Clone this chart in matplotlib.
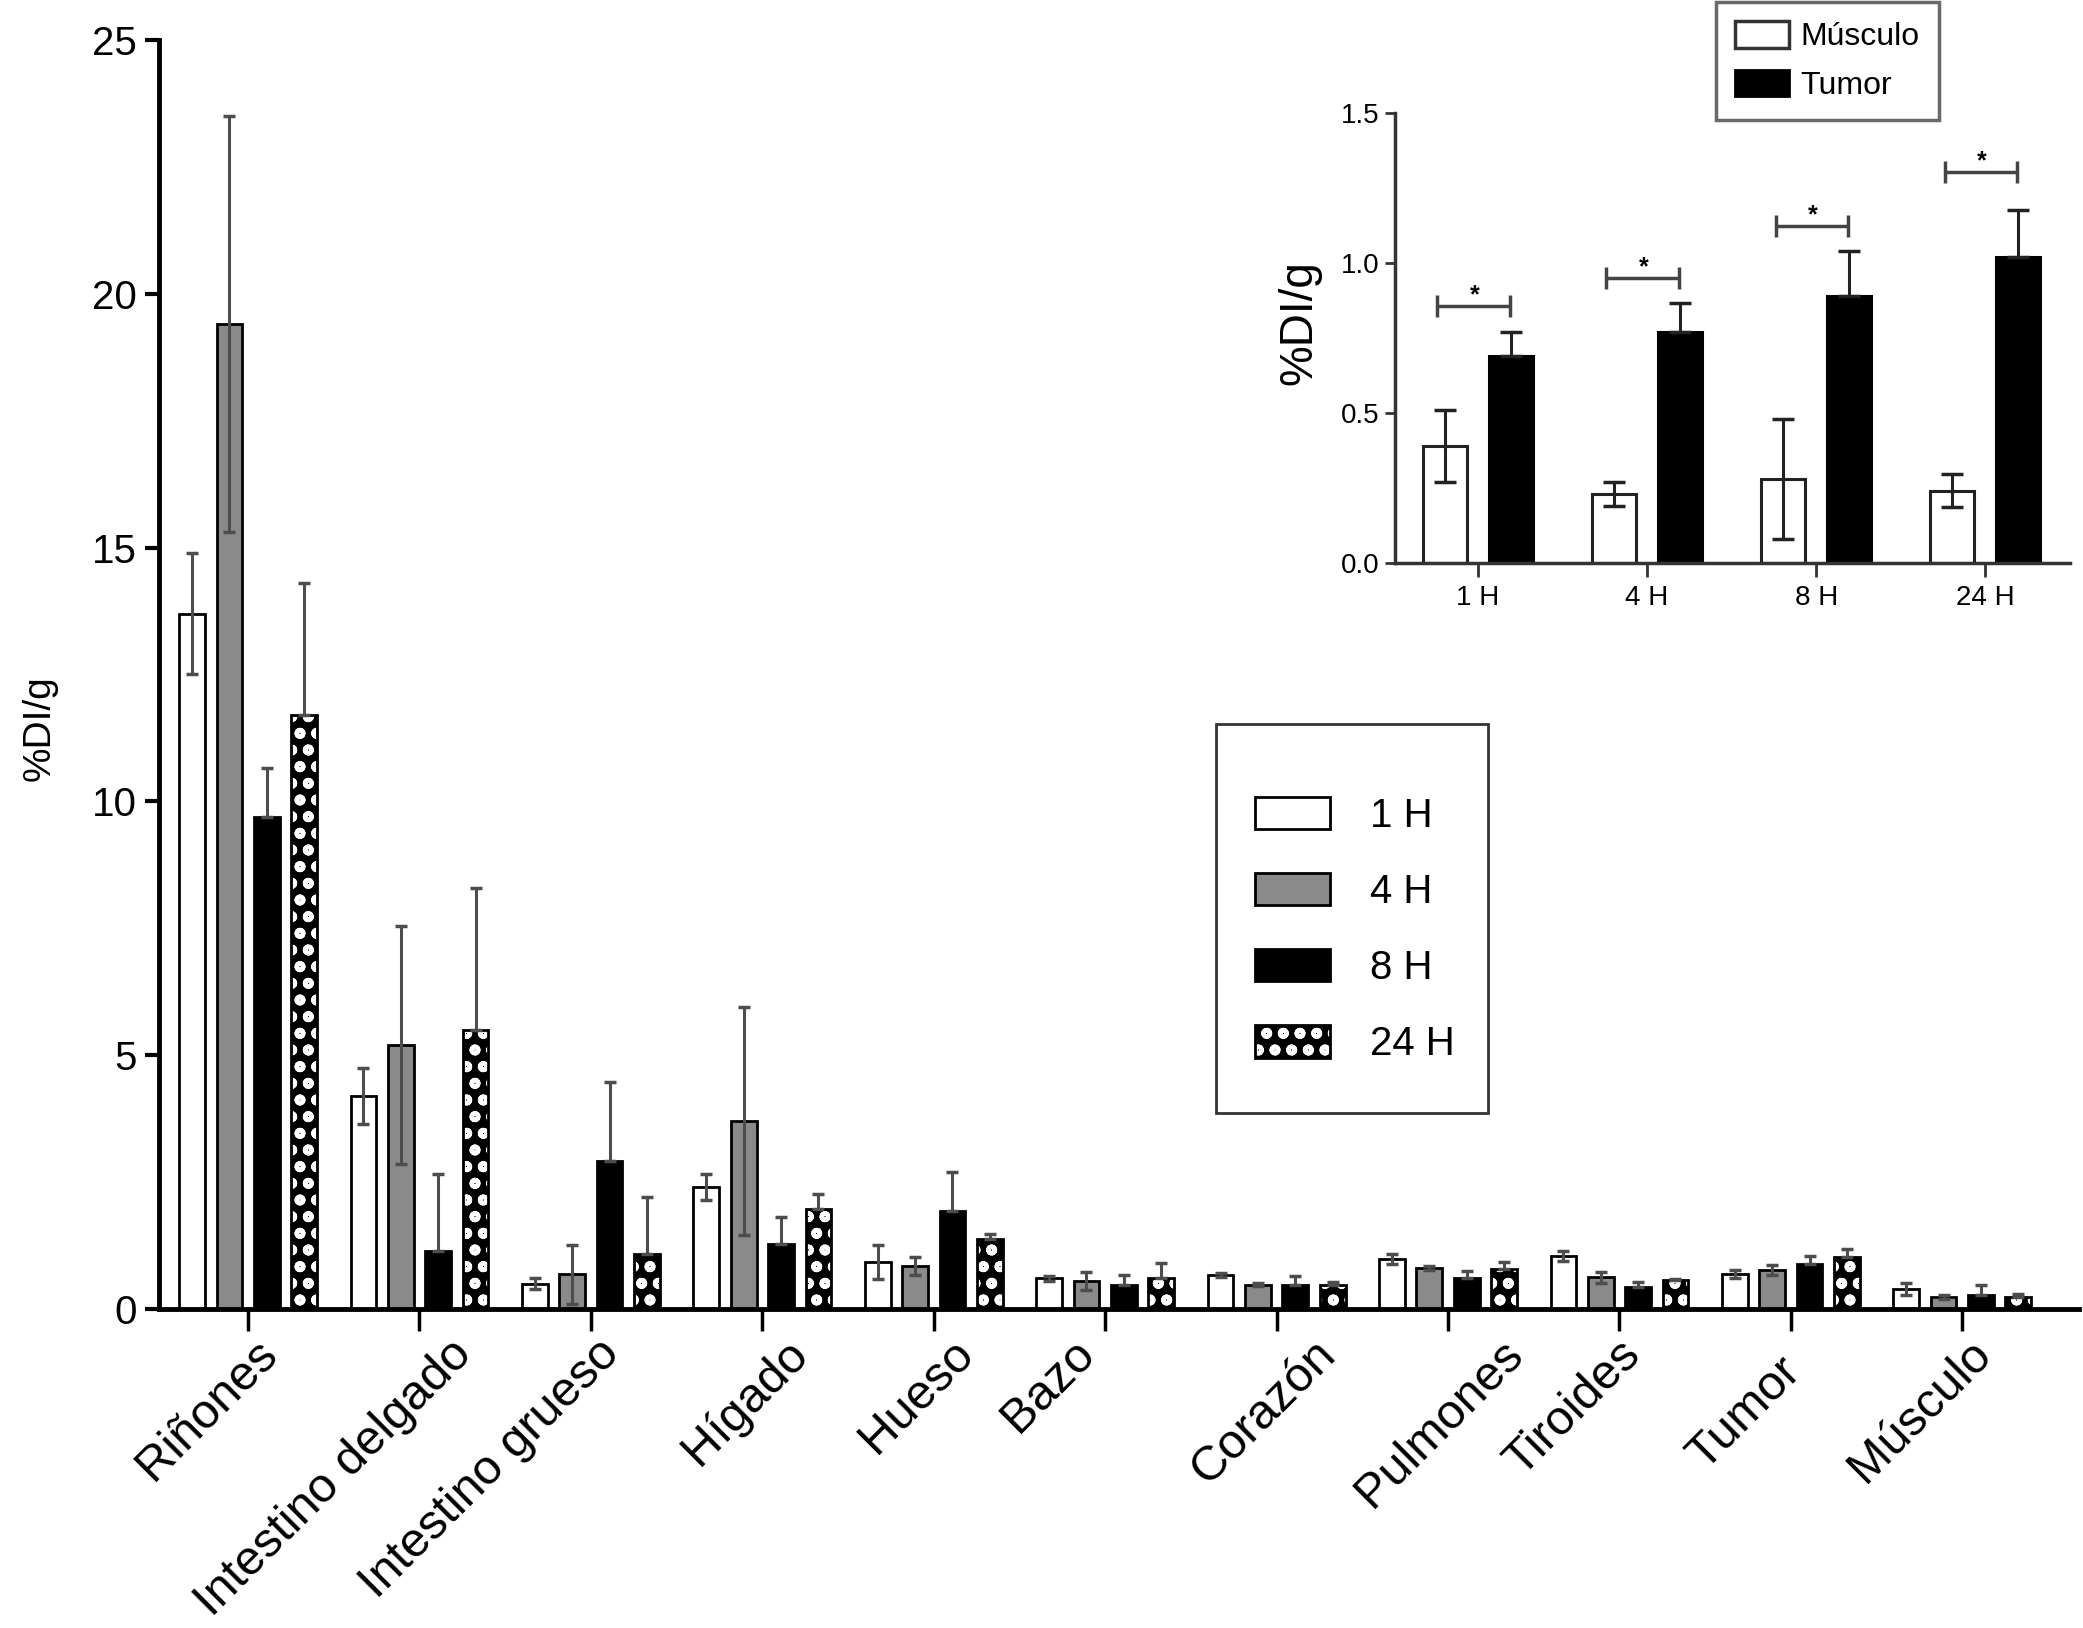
import numpy as np
import matplotlib
matplotlib.use("Agg")
import matplotlib.pyplot as plt
from matplotlib.patches import Patch, Rectangle
from matplotlib.transforms import ScaledTranslation

# main chart data
organs = ["Riñones", "Intestino delgado", "Intestino grueso", "Hígado", "Hueso", "Bazo",
          "Corazón", "Pulmones", "Tiroides", "Tumor", "Músculo"]
hours = ["1 H", "4 H", "8 H", "24 H"]

h1 = [13.7, 4.2, 0.5, 2.4, 0.92, 0.6, 0.66, 0.98, 1.05, 0.69, 0.39]
h1_err = [1.2, 0.55, 0.1, 0.25, 0.33, 0.05, 0.04, 0.1, 0.1, 0.08, 0.12]
h4 = [19.4, 5.2, 0.68, 3.7, 0.85, 0.55, 0.48, 0.8, 0.62, 0.77, 0.23]
h4_err = [4.1, 2.35, 0.58, 2.25, 0.18, 0.18, 0.03, 0.04, 0.1, 0.095, 0.04]
h8 = [9.7, 1.15, 2.92, 1.27, 1.92, 0.48, 0.48, 0.6, 0.44, 0.89, 0.28]
h8_err = [0.95, 1.5, 1.55, 0.55, 0.78, 0.18, 0.17, 0.15, 0.1, 0.15, 0.2]
h24 = [11.7, 5.5, 1.08, 1.97, 1.38, 0.6, 0.48, 0.78, 0.56, 1.02, 0.24]
h24_err = [2.6, 2.8, 1.13, 0.3, 0.1, 0.3, 0.06, 0.14, 0.03, 0.155, 0.055]

# inset data
inset_groups = ["1 H", "4 H", "8 H", "24 H"]
musculo = [0.39, 0.23, 0.28, 0.24]
musculo_err = [0.12, 0.04, 0.2, 0.055]
tumor = [0.69, 0.77, 0.89, 1.02]
tumor_err = [0.08, 0.095, 0.15, 0.155]
sig_y = [0.858, 0.951, 1.124, 1.303]

plt.rcParams["font.family"] = ["Liberation Sans", "DejaVu Sans"]
plt.rcParams["hatch.linewidth"] = 3.2

fig = plt.figure(figsize=(20.83, 16.28), dpi=100)
ax = fig.add_axes([0.0763, 0.196, 0.9217, 0.7794])

x = np.arange(len(organs))
step = 0.218
w = 0.15
gray = "#8a8a8a"
vals = [h1, h4, h8, h24]
errs = [h1_err, h4_err, h8_err, h24_err]
faces = ["white", gray, "black", None]

for k in range(4):
    pos = x + (k - 1.5) * step
    if faces[k] is None:
        ax.bar(pos, vals[k], w, color="black", edgecolor="white", hatch="o", linewidth=0, zorder=2)
        ax.bar(pos, vals[k], w, fill=False, edgecolor="black", linewidth=2, zorder=3)
    else:
        ax.bar(pos, vals[k], w, color=faces[k], edgecolor="black", linewidth=2, zorder=2)
    e = np.array(errs[k])
    lower = e if k < 2 else np.zeros_like(e)
    ax.errorbar(pos, vals[k], yerr=[lower, e], fmt="none", ecolor="#4d4d4d",
                elinewidth=2.2, capsize=4.5, capthick=2.5, zorder=4)

ax.set_xlim(-0.52, 10.68)
ax.set_ylim(0, 25)
ax.set_yticks([0, 5, 10, 15, 20, 25])
ax.spines[["top", "right"]].set_visible(False)
ax.spines["left"].set_linewidth(3.5)
ax.spines["bottom"].set_linewidth(3.5)
ax.tick_params(axis="y", length=10, width=3, labelsize=29, pad=6)
ax.tick_params(axis="x", length=16, width=2.5, labelsize=35, pad=0)
ax.set_xticks(x)
ax.set_xticklabels(organs, rotation=45, ha="right", va="top", rotation_mode="anchor")

# labels in the original are not placed evenly (inches)
nudge = {"Intestino delgado": (0.23, 0), "Hígado": (0.16, 0), "Hueso": (0.11, 0),
         "Bazo": (-0.40, 0), "Corazón": (0.30, 0), "Pulmones": (0.46, 0),
         "Tiroides": (-0.07, 0), "Tumor": (-0.19, -0.17)}
for lab in ax.get_xticklabels():
    dx, dy = nudge.get(lab.get_text(), (0, 0))
    lab.set_transform(lab.get_transform() + ScaledTranslation(dx + 0.06, dy, fig.dpi_scale_trans))

fig.text(0.0192, 0.5528, "%DI/g", rotation=90, ha="center", va="center", fontsize=28)

handles = [Patch(facecolor="white", edgecolor="black", linewidth=2),
           Patch(facecolor=gray, edgecolor="black", linewidth=2),
           Patch(facecolor="black", edgecolor="black", linewidth=2),
           (Patch(facecolor="black", edgecolor="white", hatch="o", linewidth=0),
            Patch(fill=False, edgecolor="black", linewidth=2))]
fig.legend(handles, hours, loc="center left", bbox_to_anchor=(0.6025, 0.4287),
           bbox_transform=fig.transFigure, borderaxespad=0, borderpad=0, fontsize=29,
           handlelength=1.85, handleheight=0.85, handletextpad=1.0, labelspacing=0.95,
           frameon=False)
fig.add_artist(Rectangle((1216 / 2083, 1 - 1113 / 1628), 272 / 2083, 389 / 1628,
                         transform=fig.transFigure, fill=False, edgecolor="#333333", linewidth=2))

# inset
axin = fig.add_axes([0.6697, 0.6542, 0.324, 0.2764])
xi = np.arange(len(inset_groups))
off = 0.195
bw = 0.26
axin.bar(xi - off, musculo, bw, color="white", edgecolor="#222222", linewidth=2.2, zorder=2)
axin.bar(xi + off, tumor, bw, color="black", edgecolor="black", linewidth=2.2, zorder=2)
axin.errorbar(xi - off, musculo, yerr=musculo_err, fmt="none", ecolor="#222222",
              elinewidth=2.2, capsize=8, capthick=2.5, zorder=3)
axin.errorbar(xi + off, tumor, yerr=[np.zeros(4), tumor_err], fmt="none", ecolor="#222222",
              elinewidth=2.2, capsize=8, capthick=2.5, zorder=3)
for i, yb in enumerate(sig_y):
    axin.errorbar(i - 0.025, yb, xerr=0.215, fmt="none", ecolor="#444444",
                  elinewidth=2.5, capsize=8, capthick=2.5)
    axin.text(i - 0.02, yb - 0.005, "*", ha="center", va="bottom", fontsize=18, fontweight="bold")

axin.set_xlim(-0.49, 3.5)
axin.set_ylim(0, 1.5)
axin.set_yticks([0.0, 0.5, 1.0, 1.5])
axin.set_yticklabels(["0.0", "0.5", "1.0", "1.5"])
axin.set_xticks(xi)
axin.set_xticklabels(inset_groups)
axin.spines[["top", "right"]].set_visible(False)
for s in ["left", "bottom"]:
    axin.spines[s].set_linewidth(2.5)
    axin.spines[s].set_color("#333333")
axin.tick_params(axis="y", length=7, width=2, pad=4, colors="#333333", labelcolor="black",
                 labelsize=20)
axin.tick_params(axis="x", length=10, width=2, pad=6, colors="#333333", labelcolor="black",
                 labelsize=20)

fig.text(0.6236, 0.8016, "%DI/g", rotation=90, ha="center", va="center", fontsize=33)

leg2 = fig.legend([Patch(facecolor="white", edgecolor="#333333", linewidth=2.5),
                   Patch(facecolor="black", edgecolor="black", linewidth=2)],
                  ["Músculo", "Tumor"], loc="upper left", bbox_to_anchor=(0.8238, 0.9988),
                  bbox_transform=fig.transFigure, borderaxespad=0, fontsize=23,
                  handlelength=1.7, handleheight=0.9, handletextpad=0.35, labelspacing=0.55,
                  borderpad=0.6, fancybox=False, edgecolor="#444444")
leg2.get_frame().set_linewidth(2.5)

fig.savefig("out.png", dpi=100, facecolor="white")
